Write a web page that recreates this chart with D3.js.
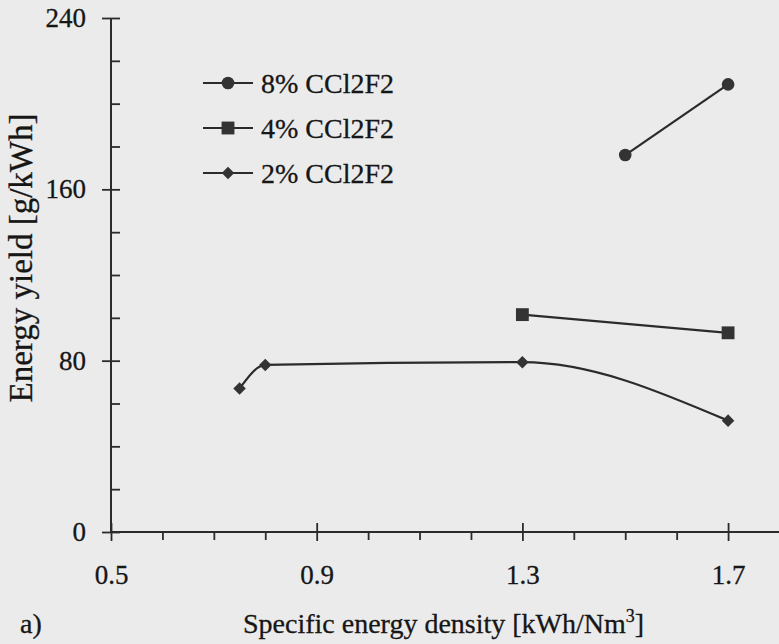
<!DOCTYPE html>
<html>
<head>
<meta charset="utf-8">
<script src="https://cdn.jsdelivr.net/npm/d3@7"></script>
<style>
	body { margin: 0; background: #ebebeb; }
	svg { display: block; }
	.tick text, .lbl { font-family: 'Liberation Serif', 'Times New Roman', serif; fill: #161616; stroke: #161616; stroke-width: 0.3px; }
</style>
</head>
<body>
<svg id="chart" width="779" height="644"></svg>
<script>

// data
var aSeriesNames = ['8% CCl2F2', '4% CCl2F2', '2% CCl2F2'];
var aX8 = [1.5, 1.7];
var aY8 = [176, 209];
var aX4 = [1.3, 1.7];
var aY4 = [101.5, 93];
var aX2 = [0.75, 0.8, 1.3, 1.7];
var aY2 = [67, 78, 79.3, 52];

var aXTicks = [0.5, 0.9, 1.3, 1.7];
var aXMinor = [0.6, 0.7, 0.8, 1.0, 1.1, 1.2, 1.4, 1.5, 1.6, 1.8];
var aYTicks = [0, 80, 160, 240];
var aYMinor = [20, 40, 60, 100, 120, 140, 180, 200, 220];

var sSvg = d3.select('#chart');
const strInk = '#2b2b2b';

var x = d3.scaleLinear().domain([0.5, 1.8]).range([111, 779.5]);
var y = d3.scaleLinear().domain([0, 240]).range([532, 18]);

// axes: major ticks cross the line, minor ticks on one side
var sYMinor = sSvg.append('g')
	.attr('transform', 'translate(111,0)')
	.call(d3.axisLeft(y).tickValues(aYMinor).tickSize(-9).tickFormat(''));

var sYAxis = sSvg.append('g')
	.attr('transform', 'translate(111,0)')
	.call(d3.axisLeft(y).tickValues(aYTicks).tickSize(9).tickPadding(16).tickFormat(d3.format('d')));
sYAxis.selectAll('.tick line').attr('x2', 9).attr('x1', -9);

var sXMinor = sSvg.append('g')
	.attr('transform', 'translate(0,532)')
	.call(d3.axisBottom(x).tickValues(aXMinor).tickSize(8).tickFormat(''));

var sXAxis = sSvg.append('g')
	.attr('transform', 'translate(0,532)')
	.call(d3.axisBottom(x).tickValues(aXTicks).tickSize(9).tickPadding(24).tickFormat(d3.format('.1f')));
sXAxis.selectAll('.tick line').attr('y1', -9).attr('y2', 9);

[sYMinor, sYAxis, sXMinor, sXAxis].forEach(function(s)
{
	s.select('.domain').attr('stroke', strInk).attr('stroke-width', 2);
	s.selectAll('.tick line').attr('stroke', strInk).attr('stroke-width', 1.8);
	s.selectAll('.tick text').style('font-size', '27px');
});
sYMinor.select('.domain').remove();
sXMinor.select('.domain').remove();
sYAxis.select('.domain').attr('d', 'M0,' + y(240) + 'V' + y(0));
sXAxis.select('.domain').attr('d', 'M' + x(0.5) + ',0H779');

// axis titles
sSvg.append('text')
	.attr('class', 'lbl')
	.attr('transform', 'translate(32,258) rotate(-90)')
	.attr('text-anchor', 'middle')
	.style('font-size', '33px')
	.text('Energy yield [g/kWh]');

var sXTitle = sSvg.append('text')
	.attr('class', 'lbl')
	.attr('x', 243)
	.attr('y', 633)
	.style('font-size', '28px');
sXTitle.append('tspan').text('Specific energy density [kWh/Nm');
sXTitle.append('tspan').attr('dy', -11).style('font-size', '18px').text('3');
sXTitle.append('tspan').attr('dy', 11).text(']');

sSvg.append('text')
	.attr('class', 'lbl')
	.attr('x', 20)
	.attr('y', 633)
	.style('font-size', '28px')
	.text('a)');

// series
var aSeries = [
	{ name: aSeriesNames[0], xs: aX8, ys: aY8, symbol: d3.symbolCircle, size: 125, curve: d3.curveLinear },
	{ name: aSeriesNames[1], xs: aX4, ys: aY4, symbol: d3.symbolSquare, size: 165, curve: d3.curveLinear },
	{ name: aSeriesNames[2], xs: aX2, ys: aY2, symbol: d3.symbolDiamond2, size: 100, curve: d3.curveMonotoneX }
];

var fnLine = d3.line()
	.x(function(d) { return x(d[0]); })
	.y(function(d) { return y(d[1]); });

aSeries.forEach(function(ser)
{
	var aPts = ser.xs.map(function(v, i) { return [v, ser.ys[i]]; });

	sSvg.append('path')
		.attr('d', fnLine.curve(ser.curve)(aPts))
		.attr('fill', 'none')
		.attr('stroke', strInk)
		.attr('stroke-width', 2.2);

	sSvg.selectAll(null)
		.data(aPts)
		.enter()
			.append('path')
				.attr('transform', function(d) { return 'translate(' + x(d[0]) + ',' + y(d[1]) + ')'; })
				.attr('d', d3.symbol().type(ser.symbol).size(ser.size))
				.attr('fill', '#333');
});

// legend
var sLegend = sSvg.append('g').attr('transform', 'translate(203,83)');
aSeries.forEach(function(ser, i)
{
	var sRow = sLegend.append('g').attr('transform', 'translate(0,' + (i * 45) + ')');
	sRow.append('line')
		.attr('x1', 0).attr('x2', 50)
		.attr('stroke', strInk).attr('stroke-width', 2.2);
	sRow.append('path')
		.attr('transform', 'translate(25,0)')
		.attr('d', d3.symbol().type(ser.symbol).size(ser.size))
		.attr('fill', '#333');
	sRow.append('text')
		.attr('class', 'lbl')
		.attr('x', 58)
		.attr('dy', '0.35em')
		.style('font-size', '28px')
		.text(ser.name);
});

</script>
</body>
</html>
